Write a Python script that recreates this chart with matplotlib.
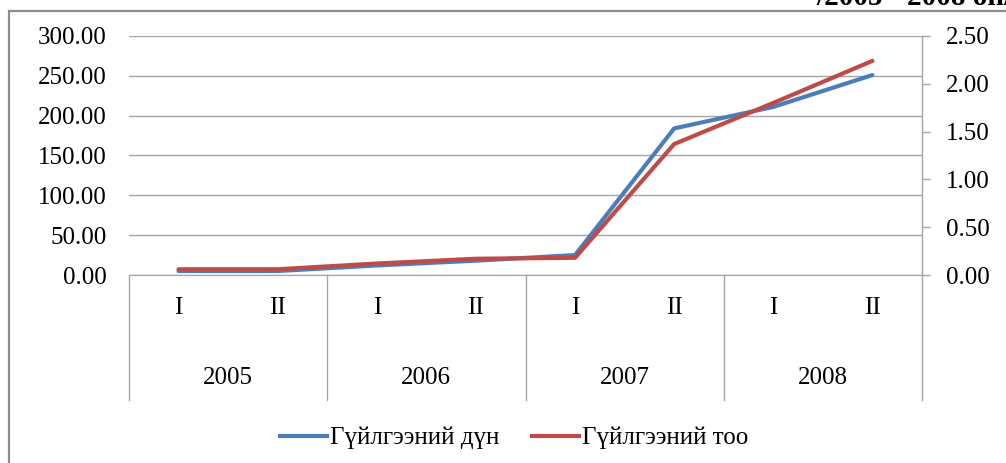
import matplotlib.pyplot as plt
from matplotlib.patches import Rectangle
from matplotlib.lines import Line2D

plt.rcParams['font.family'] = ['Liberation Serif', 'DejaVu Serif']

# data
years = ['2005', '2006', '2007', '2008']
halves = ['I', 'II']
amount = [5, 5, 12, 18, 25, 184, 211, 251]          # left axis
count = [0.06, 0.06, 0.12, 0.17, 0.18, 1.37, 1.80, 2.24]  # right axis
left_ticks = [0, 50, 100, 150, 200, 250, 300]
right_ticks = [0, 0.5, 1.0, 1.5, 2.0, 2.5]
series_names = ['Гүйлгээний дүн', 'Гүйлгээний тоо']
title = '/2005 - 2008 он/'

W, H = 1006, 463
blue = '#4A7EBB'
red = '#BE4B48'
grid_c = '#A6A6A6'
FS = 18

fig = plt.figure(figsize=(W / 100, H / 100), dpi=100)

# outer frame (partly off the canvas, like the screenshot)
fig.patches.append(Rectangle((9 / W, -0.1), 1.2, 1 - 11 / H + 0.1,
                             transform=fig.transFigure, fill=False,
                             edgecolor='#8C8C8C', lw=1.6))
# title is cut off by the top edge in the source too
fig.text(816 / W, 1 - 5 / H, title, fontsize=21, fontweight='bold',
         ha='left', va='baseline')

x0, x1, y0, y1 = 129, 922, 275, 36
ax = fig.add_axes([x0 / W, 1 - y0 / H, (x1 - x0) / W, (y0 - y1) / H])
ax2 = ax.twinx()

n = len(years) * len(halves)
xs = list(range(n))
ax.set_xlim(-0.5, n - 0.5)
ax.set_ylim(0, 300)
ax2.set_ylim(0, 2.5)

ax.set_yticks(left_ticks)
ax.set_yticklabels([f'{v:.2f}' for v in left_ticks])
ax2.set_yticks(right_ticks)
ax2.set_yticklabels([f'{v:.2f}' for v in right_ticks])
ax.grid(axis='y', color=grid_c, lw=1)
ax.set_axisbelow(True)
ax.set_xticks([])

for a in (ax, ax2):
    for s in ('top', 'left', 'right'):
        a.spines[s].set_visible(False)
    a.spines['bottom'].set_color(grid_c)
ax.tick_params(axis='y', length=0, pad=16, labelsize=FS)
ax2.tick_params(axis='y', length=6, width=1, color=grid_c, pad=11, labelsize=FS)

ax.plot(xs, amount, color=blue, lw=3, solid_capstyle='round', zorder=3)
ax2.plot(xs, count, color=red, lw=3, solid_capstyle='round', zorder=3)

# category separators run down through the label area
bottom_y = (y0 - 400) / (y0 - y1)
tr = ax.get_xaxis_transform()
for b in range(len(years) + 1):
    xb = b * len(halves) - 0.5
    ax.plot([xb, xb], [0, bottom_y], transform=tr, color=grid_c, lw=1,
            clip_on=False)
ax.plot([n - 0.5, n - 0.5], [0, 1], transform=tr, color=grid_c, lw=1,
        clip_on=False)

# two level category labels
lvl1_y = (y0 - 308) / (y0 - y1)
lvl2_y = (y0 - 378) / (y0 - y1)
for i in xs:
    ax.text(i, lvl1_y, halves[i % len(halves)], transform=tr, ha='center',
            va='center', fontsize=FS)
for j, yr in enumerate(years):
    ax.text(j * len(halves) + 0.5, lvl2_y, yr, transform=tr, ha='center',
            va='center', fontsize=FS)

handles = [Line2D([], [], color=blue, lw=3), Line2D([], [], color=red, lw=3)]
fig.legend(handles, series_names, loc='center', ncol=2,
           bbox_to_anchor=(514 / W, 1 - 438 / H), frameon=False, fontsize=FS,
           handlelength=1.9, handletextpad=0.1, columnspacing=1.3)

fig.savefig('out.png', dpi=100)
